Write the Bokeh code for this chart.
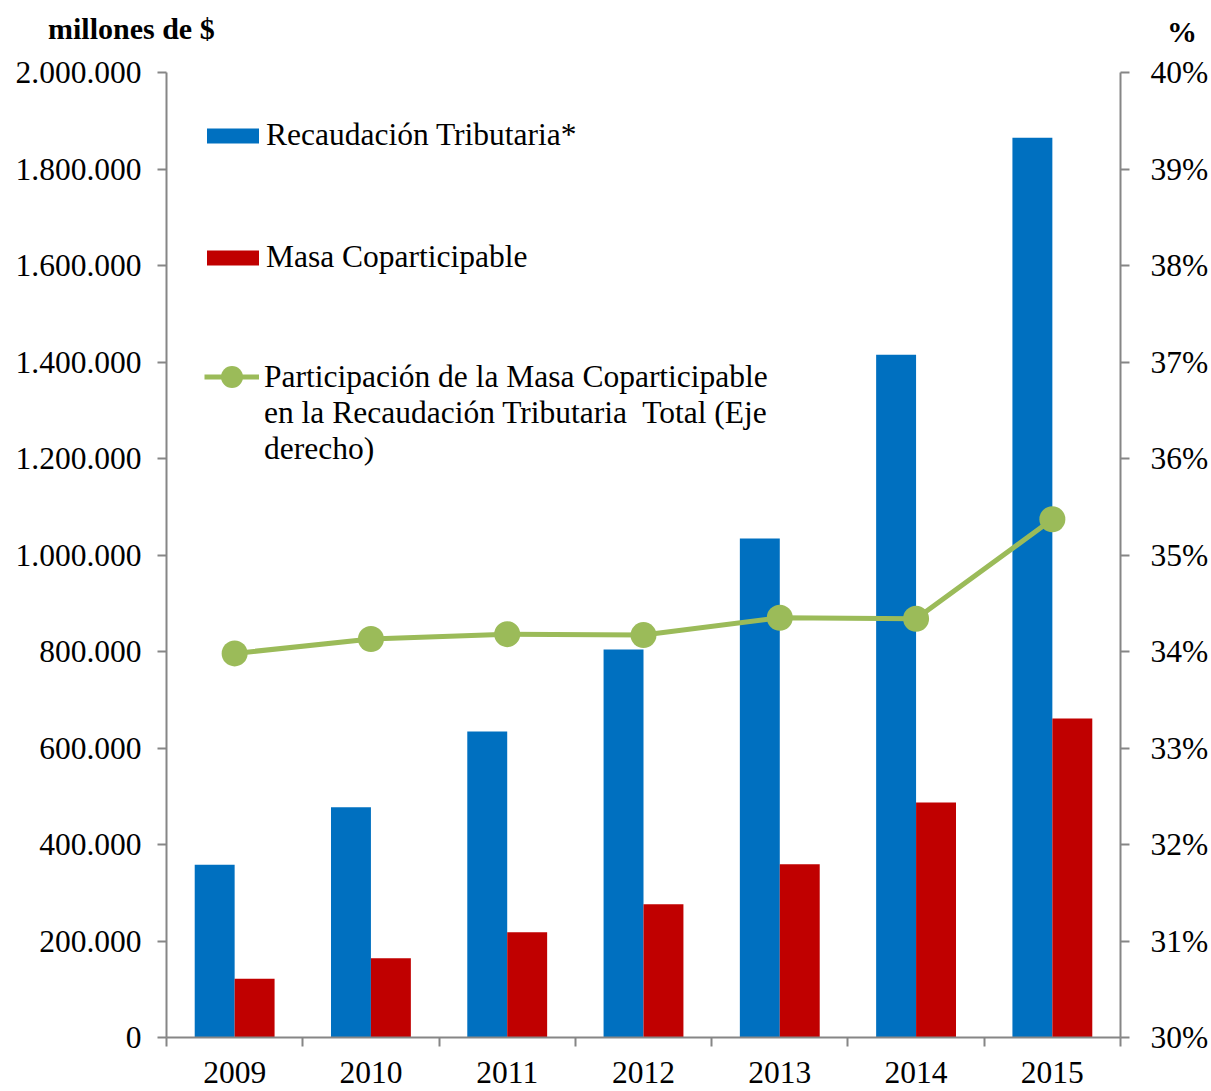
import numpy as np
from bokeh.plotting import figure
from bokeh.layouts import column
from bokeh.models import (ColumnDataSource, Range1d, LinearAxis, FixedTicker, SingleIntervalTicker,
                          CustomJSTickFormatter, PrintfTickFormatter, Legend, LegendItem, Div)
from bokeh.transform import dodge
from bokeh.embed import file_html
from bokeh.resources import INLINE

years = ["2009", "2010", "2011", "2012", "2013", "2014", "2015"]
recaudacion = [358000, 477000, 634000, 804000, 1034000, 1415000, 1865000]
masa_coparticipable = [122000, 164000, 218000, 276000, 359000, 487000, 661000]
participacion = [33.98, 34.13, 34.18, 34.17, 34.35, 34.34, 35.37]
left_ticks = [0, 200000, 400000, 600000, 800000, 1000000, 1200000, 1400000, 1600000, 1800000, 2000000]

FONT = "Liberation Serif"
FS = "31.5px"
BLUE = "#0070C0"
RED = "#C00000"
GREEN = "#9BBB59"
AXIS = "#868686"
W = 1211
HEAD_H = 50

# ---- header strip holding the two axis unit titles ----
span_style = ("position:absolute;font-family:'Liberation Serif';font-weight:bold;font-size:30px;"
              "line-height:30px;color:black;white-space:nowrap;")
head = Div(width=W, height=HEAD_H, text=(
    f'<div style="position:relative;width:{W}px;height:{HEAD_H}px;margin:0;padding:0;">'
    f'<span style="{span_style}left:48px;top:14px;">millones de $</span>'
    f'<span style="{span_style}left:1167px;top:17px;">%</span>'
    '</div>'), styles={"margin": "0", "padding": "0"})

# ---- main chart ----
xc = np.arange(len(years)) + 0.5
src = ColumnDataSource(dict(x=xc, rec=recaudacion, masa=masa_coparticipable, pct=participacion))

p = figure(width=W, height=1088 - HEAD_H, output_backend="svg", toolbar_location=None,
           x_range=Range1d(0, len(years)), y_range=Range1d(0, 2000000),
           min_border_left=166, min_border_right=89, min_border_top=72 - HEAD_H, min_border_bottom=51,
           x_axis_type=None, y_axis_type=None)
p.outline_line_color = None
p.xgrid.visible = False
p.ygrid.visible = False
p.extra_y_ranges = {"pct": Range1d(30, 40)}

bw = 0.293
r_blue = p.vbar(x=dodge("x", -bw / 2), top="rec", width=bw, source=src, fill_color=BLUE, line_color=None)
r_red = p.vbar(x=dodge("x", bw / 2), top="masa", width=bw, source=src, fill_color=RED, line_color=None)
r_line = p.line(x="x", y="pct", source=src, y_range_name="pct", line_color=GREEN, line_width=5)
r_pts = p.scatter(x="x", y="pct", source=src, y_range_name="pct", size=26, fill_color=GREEN, line_color=None)
r_blank = p.scatter(x=[], y=[], fill_alpha=0, line_alpha=0)

def style_axis(ax):
    ax.axis_line_color = AXIS
    ax.axis_line_width = 2
    ax.major_tick_line_color = AXIS
    ax.major_tick_line_width = 2
    ax.minor_tick_line_color = AXIS
    ax.minor_tick_line_width = 2
    ax.major_label_text_font = FONT
    ax.major_label_text_font_size = FS
    ax.major_label_text_color = "black"

xax = LinearAxis(ticker=FixedTicker(ticks=list(xc), minor_ticks=list(range(len(years) + 1))),
                 major_label_overrides={float(x): y for x, y in zip(xc, years)})
style_axis(xax)
xax.major_tick_out = 0
xax.major_tick_in = 0
xax.minor_tick_out = 9
xax.minor_tick_in = 0
xax.major_label_standoff = 15
p.add_layout(xax, "below")

yax = LinearAxis(ticker=FixedTicker(ticks=left_ticks, minor_ticks=[]),
                 formatter=CustomJSTickFormatter(code="""
                   return Math.round(tick).toString().replace(/\\B(?=(\\d{3})+(?!\\d))/g, '.');
                 """))
style_axis(yax)
yax.major_tick_out = 9
yax.major_tick_in = 0
yax.major_label_standoff = 16
p.add_layout(yax, "left")

rax = LinearAxis(y_range_name="pct", ticker=SingleIntervalTicker(interval=1, num_minor_ticks=0),
                 formatter=PrintfTickFormatter(format="%d%%"))
style_axis(rax)
rax.major_tick_out = 9
rax.major_tick_in = 0
rax.major_label_standoff = 21
p.add_layout(rax, "right")

def make_legend(item, loc, gw, gh, standoff=1):
    lg = Legend(items=[item], location=loc, glyph_width=gw, glyph_height=gh,
                label_text_font=FONT, label_text_font_size=FS, label_text_color="black",
                label_standoff=standoff, padding=0, margin=0, spacing=0,
                border_line_color=None, background_fill_alpha=0)
    p.add_layout(lg, "center")

make_legend(LegendItem(label="Recaudación Tributaria*", renderers=[r_blue]), (34, 884), 65, 19)
make_legend(LegendItem(label="Masa Coparticipable", renderers=[r_red]), (34, 762), 65, 19)
make_legend(LegendItem(label="Participación de la Masa Coparticipable", renderers=[r_line, r_pts]), (38, 633), 55, 55, 5)
make_legend(LegendItem(label="en la Recaudación Tributaria  Total (Eje\nderecho)", renderers=[r_blank]), (38, 570), 55, 10, 5)

layout = column(head, p, spacing=0)
open("out.html", "w").write(file_html(layout, INLINE))
